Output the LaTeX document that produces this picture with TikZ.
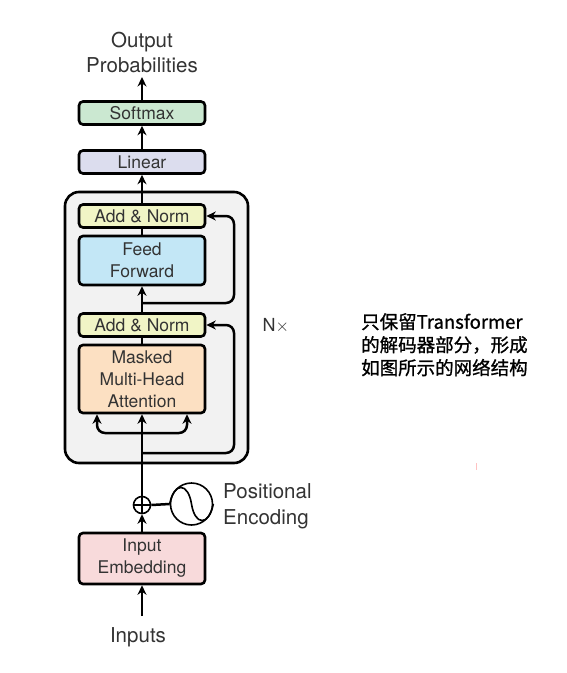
\documentclass[tikz,border=0pt]{standalone}
\usepackage{fontspec}
\setmainfont{TeX Gyre Heros}
\newfontfamily\cjk[FakeBold=1]{Noto Sans CJK SC}
\usetikzlibrary{arrows.meta}
\definecolor{txt}{HTML}{333333}
\definecolor{cont}{HTML}{F2F2F2}
\definecolor{smx}{HTML}{CBE8D1}
\definecolor{lin}{HTML}{DCDDEE}
\definecolor{addn}{HTML}{F1F5C6}
\definecolor{ffc}{HTML}{C3E7F6}
\definecolor{mha}{HTML}{FCE0C2}
\definecolor{emb}{HTML}{F8DADB}
\tikzset{
  blk/.style={draw=black, line width=2.6pt, rounded corners=4pt, minimum width=126pt, inner sep=0pt, align=center, text=txt, font=\fontsize{17.5}{22}\selectfont},
  ln/.style={line width=2.5pt},
  arr/.style={line width=2.5pt, -{Stealth[length=9.5pt,width=9pt]}},
  lbl/.style={text=txt, align=center, font=\fontsize{20.5}{25}\selectfont},
}
\begin{document}
\begin{tikzpicture}[x=1pt,y=-1pt]
\useasboundingbox (0,0) rectangle (566,673);
% container
\node[draw=black, line width=2.6pt, rounded corners=14pt, fill=cont, minimum width=183pt, minimum height=271pt, inner sep=0pt] (cont) at (156.5,327.5) {};
% boxes
\node[blk, fill=smx, minimum height=23pt] (smx) at (142,113) {Softmax};
\node[blk, fill=lin, minimum height=23pt] (lin) at (142,162) {Linear};
\node[blk, fill=addn, minimum height=23pt] (an2) at (142,216) {Add \& Norm};
\node[blk, fill=ffc, minimum height=49pt] (ff) at (142,260.5) {Feed\\Forward};
\node[blk, fill=addn, minimum height=23pt] (an1) at (142,325) {Add \& Norm};
\node[blk, fill=mha, minimum height=68pt] (mha) at (142,379) {Masked\\Multi-Head\\Attention};
\node[blk, fill=emb, minimum height=51pt] (emb) at (142,558.5) {Input\\Embedding};
% labels
\node[lbl] (out) at (142,52) {Output\\Probabilities};
\coordinate (outb) at (142,77);
\node[lbl] (inp) at (138,637) {Inputs};
\coordinate (inpt) at (142,616);
\node[lbl, align=left, anchor=west, inner sep=0pt, font=\fontsize{20.5}{26}\selectfont] (pe) at (223,506) {Positional\\Encoding};
\node[text=txt, font=\fontsize{18}{21}\selectfont, anchor=west] (nx) at (259,326) {N$\times$};
% plus and sinusoid
\node[draw=black, line width=1.6pt, circle, minimum size=17pt, inner sep=0pt] (plus) at (142,505) {};
\draw[line width=1.6pt] (plus.north) -- (plus.south) (plus.west) -- (plus.east);
\node[draw=black, line width=1.6pt, circle, minimum size=42pt, inner sep=0pt] (sin) at (191.5,504) {};
\draw[line width=1.6pt] (sin.west) .. controls (174,482) and (188,482) .. (sin.center) .. controls (195,526) and (209,526) .. (sin.east);
\draw[ln] (plus.east) -- (sin.west);
% main flow
\draw[arr] (inpt) -- (emb.south);
\draw[arr] (emb.north) -- (plus.south);
\draw[arr] (plus.north) -- (mha.south);
\coordinate (br) at (142,433);
\coordinate (r1) at (142,453);
\draw[arr, rounded corners=8pt] (br) -| ([xshift=-45pt]mha.south);
\draw[arr, rounded corners=8pt] (br) -| ([xshift=45pt]mha.south);
\coordinate (rc1) at (234,453);
\draw[arr, rounded corners=8pt] (r1) -- (rc1) |- (an1.east);
\draw[ln] (mha.north) -- (an1.south);
\draw[arr] (an1.north) -- (ff.south);
\coordinate (r2) at (142,303);
\coordinate (rc2) at (234,303);
\draw[arr, rounded corners=8pt] (r2) -- (rc2) |- (an2.east);
\draw[ln] (ff.north) -- (an2.south);
\draw[arr] (an2.north) -- (lin.south);
\draw[arr] (lin.north) -- (smx.south);
\draw[arr] (smx.north) -- (outb);
% chinese note
\node[anchor=north west, align=left, inner sep=0pt, font=\cjk\fontsize{18.5}{23}\selectfont, text=black] (note) at (361,313) {只保留Transformer\\的解码器部分，形成\\如图所示的网络结构};
\draw[color=pink!70!red, line width=1pt, opacity=0.5] (476,463) -- (476,470);
\end{tikzpicture}
\end{document}
